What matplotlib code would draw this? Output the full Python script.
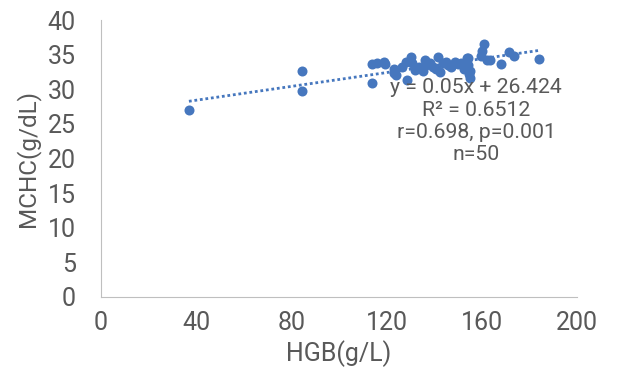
import numpy as np
import matplotlib
matplotlib.use("Agg")
from matplotlib import pyplot as plt

plt.rcParams['font.family'] = ['Roboto', 'DejaVu Sans']

# values
hgb = [37, 84.5, 84.5, 113.9, 113.9, 116, 118.8, 119.5, 123, 123.2, 124, 126.5,
       128.6, 130.4, 130.7, 132.1, 133.5, 135.3, 136.5, 138.1, 139.5, 140.9, 141.6,
       142.5, 143.7, 145.8, 147, 148.6, 150, 151.4, 152.5, 153.6, 154.2, 154.2,
       154.9, 155, 154.5, 153.8, 159.5, 160.2, 160.9, 162.3, 163.5, 167.9, 171.4,
       173.5, 184, 136, 145, 128]
mchc = [27.0, 32.6, 29.7, 33.6, 30.9, 33.8, 34.0, 33.7, 32.9, 32.3, 32.0, 33.3,
        31.4, 34.7, 33.8, 32.8, 33.2, 32.6, 33.5, 33.8, 33.3, 33.0, 34.7,
        32.5, 33.8, 33.5, 33.2, 34.0, 33.6, 33.8, 33.0, 34.6, 34.5, 33.5,
        32.6, 31.6, 32.2, 33.1, 34.8, 35.5, 36.5, 34.2, 34.3, 33.6, 35.4,
        34.8, 34.4, 34.2, 34.0, 33.9]
slope, intercept = 0.05, 26.424
stats = ["y = 0.05x + 26.424", "R² = 0.6512", "r=0.698, p=0.001", "n=50"]

blue = '#4677BE'
grey = '#595959'

fig = plt.figure(figsize=(6.26, 3.73), dpi=100)
ax = fig.add_axes([0.161, 0.204, 0.761, 0.742])

ax.scatter(hgb, mchc, s=52, color=blue, zorder=3, linewidths=0)
xs = np.array([min(hgb), max(hgb)])
ax.plot(xs, slope * xs + intercept, color=blue, lw=2, ls=(0, (1, 1)), zorder=2)

ax.text(157.5, 25.4, "\n".join(stats), ha='center', va='center', fontsize=15.3,
        color=grey, linespacing=1.22, zorder=4)

ax.set_xlim(0, 200)
ax.set_ylim(0, 40)
ax.set_xticks(range(0, 201, 40))
ax.set_yticks(range(0, 41, 5))
for s in ['top', 'right']:
    ax.spines[s].set_visible(False)
for s in ['left', 'bottom']:
    ax.spines[s].set_color('#BFBFBF')
ax.tick_params(length=0, labelsize=18, colors=grey)
ax.tick_params(axis='x', pad=10)
ax.tick_params(axis='y', pad=18)
ax.set_xlabel("HGB(g/L)", fontsize=18, color=grey)
ax.set_ylabel("MCHC(g/dL)", fontsize=17.5, color=grey)
ax.xaxis.set_label_coords(0.5, -0.155)
ax.yaxis.set_label_coords(-0.128, 0.5)

fig.savefig("out.png", dpi=100)
